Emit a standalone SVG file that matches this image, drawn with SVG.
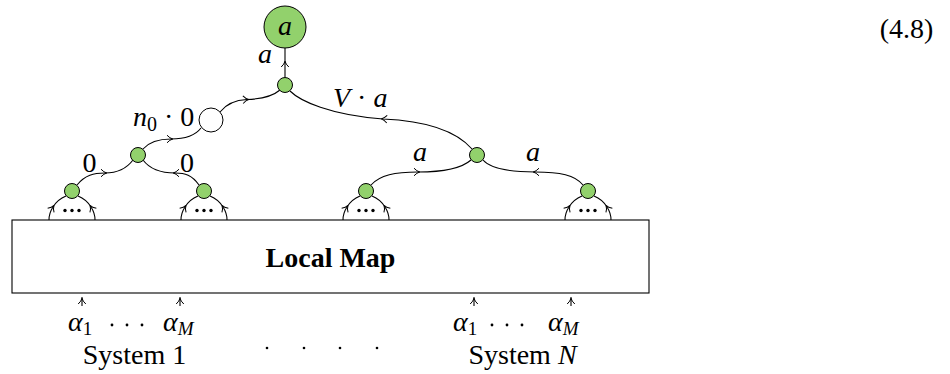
<svg xmlns="http://www.w3.org/2000/svg" width="950" height="374" viewBox="0 0 950 374">
<defs>
<style>
.e{fill:none;stroke:#000;stroke-width:1.1;marker-mid:url(#arr)}
.v{fill:#92d16c;stroke:#000;stroke-width:1}
.w{fill:#fff;stroke:#000;stroke-width:1}
.m{font-family:"Liberation Serif",serif;font-size:28px;fill:#000}
.i{font-style:italic}
.t{font-family:"Liberation Serif",serif;font-size:28px;fill:#000}
.d{fill:#000}
</style>
<marker id="arr" viewBox="-6 -6 12 12" markerWidth="12" markerHeight="12" refX="0" refY="0" orient="auto" markerUnits="userSpaceOnUse">
<path d="M-4,-3.8 Q-1.2,-0.7 1.8,0 Q-1.2,0.7 -4,3.8" fill="none" stroke="#000" stroke-width="1"/>
</marker>
</defs>

<g id="connectors">
<path class="e" d="M285,77 L285,63 L285,48"/>
<path class="e" d="M220,112 C227,103 236,100 247,99.5 C262,99 273,96 280,90"/>
<path class="e" d="M472,149 C458,133 430,121 383,119 C330,115 300,101 290,91"/>
<path class="e" d="M143,149 C150,141 160,139 171,139 C185,139 195,136 201,128"/>
<path class="e" d="M77,185 C85,175 94,173 105,173 C117,173 127,168 133,160"/>
<path class="e" d="M199,185 C192,175 185,173 175,173 C160,173 149,168 143,160"/>
<path class="e" d="M371,185 C380,175 395,172 418,172 C445,172 462,168 471,160"/>
<path class="e" d="M583,185 C575,175 560,172 535,172 C510,172 490,168 483,160"/>
<path class="e" d="M49,220 C49,214 51,210 53,207 C56,202 61,198 66,196"/>
<path class="e" d="M95,220 C95,214 93,210 91,207 C88,202 83,198 78,196"/>
<path class="e" d="M181,220 C181,214 183,210 185,207 C188,202 193,198 198,196"/>
<path class="e" d="M227,220 C227,214 225,210 223,207 C220,202 215,198 210,196"/>
<path class="e" d="M343,220 C343,214 345,210 347,207 C350,202 355,198 360,196"/>
<path class="e" d="M389,220 C389,214 387,210 385,207 C382,202 377,198 372,196"/>
<path class="e" d="M565,220 C565,214 567,210 569,207 C572,202 577,198 582,196"/>
<path class="e" d="M611,220 C611,214 609,210 607,207 C604,202 599,198 594,196"/>
<path class="e" d="M82,306 L82,300 L82,297"/>
<path class="e" d="M180,306 L180,300 L180,297"/>
<path class="e" d="M474,306 L474,300 L474,297"/>
<path class="e" d="M571,306 L571,300 L571,297"/>
</g>

<g id="out">
<circle class="v" cx="285" cy="27" r="21"/>
<text class="m i" x="285" y="35" text-anchor="middle" font-size="30">a</text>
</g>
<g id="root"><circle class="v" cx="285" cy="85" r="7.5"/></g>
<g id="white"><circle class="w" cx="211" cy="120" r="12"/></g>
<g id="midL"><circle class="v" cx="138" cy="155" r="7.5"/></g>
<g id="midR"><circle class="v" cx="477" cy="155" r="7.5"/></g>
<g id="leaf1"><circle class="v" cx="72" cy="191" r="7.5"/>
<circle class="d" cx="65" cy="210.5" r="1.7"/><circle class="d" cx="72" cy="210.5" r="1.7"/><circle class="d" cx="79" cy="210.5" r="1.7"/></g>
<g id="leaf2"><circle class="v" cx="204" cy="191" r="7.5"/>
<circle class="d" cx="197" cy="210.5" r="1.7"/><circle class="d" cx="204" cy="210.5" r="1.7"/><circle class="d" cx="211" cy="210.5" r="1.7"/></g>
<g id="leaf3"><circle class="v" cx="366" cy="191" r="7.5"/>
<circle class="d" cx="359" cy="210.5" r="1.7"/><circle class="d" cx="366" cy="210.5" r="1.7"/><circle class="d" cx="373" cy="210.5" r="1.7"/></g>
<g id="leaf4"><circle class="v" cx="588" cy="191" r="7.5"/>
<circle class="d" cx="581" cy="210.5" r="1.7"/><circle class="d" cx="588" cy="210.5" r="1.7"/><circle class="d" cx="595" cy="210.5" r="1.7"/></g>

<g id="localmap">
<rect x="12" y="220" width="637" height="73" fill="#fff" stroke="#000" stroke-width="1.1"/>
<text class="t" x="330.5" y="267" text-anchor="middle" font-weight="bold" font-size="29">Local Map</text>
</g>

<g id="labels">
<text class="m i" x="265" y="63" text-anchor="middle">a</text>
<text class="m" x="133" y="126"><tspan class="i">n</tspan><tspan font-size="20" dy="5">0</tspan><tspan dy="-5"> · 0</tspan></text>
<text class="m" x="333" y="107"><tspan class="i">V</tspan> · <tspan class="i">a</tspan></text>
<text class="m" x="89.5" y="172" text-anchor="middle">0</text>
<text class="m" x="187" y="172" text-anchor="middle">0</text>
<text class="m i" x="420" y="161" text-anchor="middle">a</text>
<text class="m i" x="533" y="161" text-anchor="middle">a</text>
<text class="m" x="68" y="331"><tspan class="i">α</tspan><tspan font-size="19" dy="4">1</tspan></text>
<text class="m" x="163" y="331"><tspan class="i">α</tspan><tspan class="i" font-size="19" dy="4">M</tspan></text>
<text class="m" x="453" y="331"><tspan class="i">α</tspan><tspan font-size="19" dy="4">1</tspan></text>
<text class="m" x="548" y="331"><tspan class="i">α</tspan><tspan class="i" font-size="19" dy="4">M</tspan></text>
<circle class="d" cx="112" cy="325" r="1.4"/><circle class="d" cx="127" cy="325" r="1.4"/><circle class="d" cx="142" cy="325" r="1.4"/>
<circle class="d" cx="492" cy="325" r="1.4"/><circle class="d" cx="507" cy="325" r="1.4"/><circle class="d" cx="522" cy="325" r="1.4"/>
<text class="t" x="134.5" y="364" text-anchor="middle">System 1</text>
<text class="t" x="522.5" y="364" text-anchor="middle">System <tspan class="i">N</tspan></text>
<circle class="d" cx="267" cy="348" r="1.3"/><circle class="d" cx="304" cy="348" r="1.3"/><circle class="d" cx="340" cy="348" r="1.3"/><circle class="d" cx="377" cy="348" r="1.3"/>
<text class="t" x="906.5" y="38" text-anchor="middle">(4.8)</text>
</g>
</svg>
